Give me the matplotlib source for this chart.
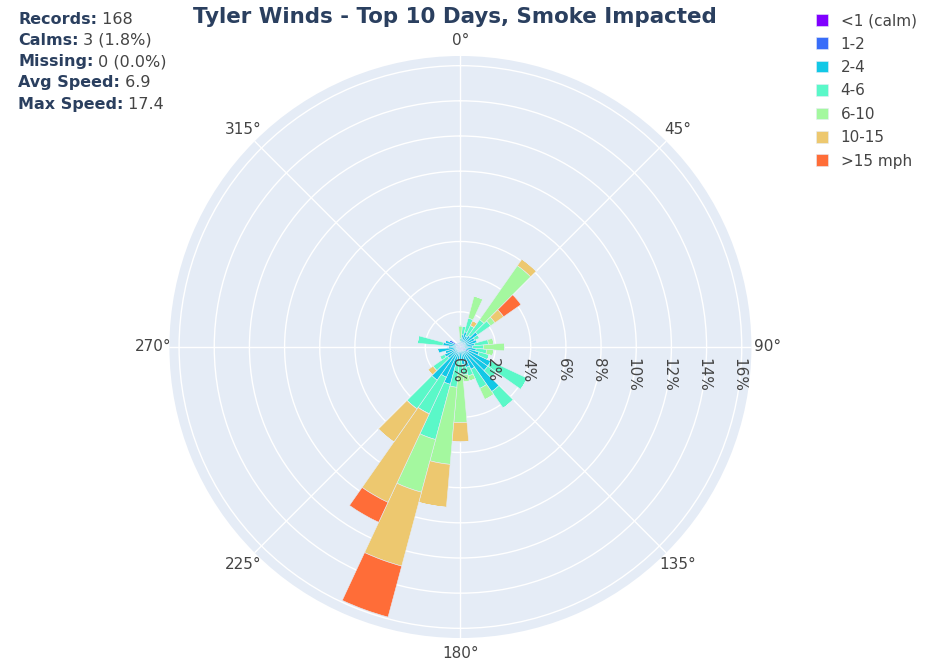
import matplotlib
matplotlib.use("Agg")
import matplotlib.pyplot as plt
import numpy as np
from matplotlib.transforms import offset_copy

# --- Daten: Anteil (%) je Richtung (10°-Sektoren) und Geschwindigkeitsklasse ---
DIRECTIONS = np.arange(0, 360, 10)
SPEED_LABELS = ["<1 (calm)", "1-2", "2-4", "4-6", "6-10", "10-15", ">15 mph"]

calm = [0, 0, 0, 0, 0, 0, 0, 0, 0, 0, 0, 0,
        0.2, 0, 0, 0, 0, 0, 0, 0, 0, 0, 0, 0,
        0, 0, 0, 0, 0, 0, 0.3, 0, 0, 0, 0, 0]
mph_1_2 = [0.1, 0.2, 0.2, 0.2, 0.2, 0.3, 0.2, 0.2, 0.2, 0.1, 0.2, 0.3,
           0.3, 0.3, 0.3, 0.2, 0.2, 0.2, 0.2, 0.2, 0.3, 0.3, 0.2, 0.2,
           0.2, 0.2, 0.3, 0.2, 0.2, 0.3, 0.4, 0.3, 0.2, 0, 0.1, 0.1]
mph_2_4 = [0.2, 0.5, 0.7, 0.5, 0.6, 0.9, 0.7, 0.8, 0.6, 0.6, 0.7, 0.8,
           1.4, 1.6, 2.8, 1.2, 1.0, 0.8, 0.5, 0.6, 1.9, 1.6, 2.1, 0.7,
           0.8, 0.7, 1.0, 0.5, 0.8, 0.6, 0, 0, 0, 0.3, 0.2, 0.2]
mph_4_6 = [0.2, 0.5, 0.8, 0.65, 1.1, 0.9, 0.3, 0, 0.8, 0.6, 0.6, 0.6,
           2.3, 0.6, 1.15, 1.2, 0.5, 0.6, 0.8, 1.5, 3.25, 2.3, 2.0, 1.0,
           0.3, 0, 0, 0, 1.45, 0, 0, 0, 0, 0, 0, 0]
mph_6_10 = [0.7, 0, 1.3, 0, 3.75, 0.3, 0, 0, 0.3, 1.2, 0.4, 0,
            0, 0, 0, 0.7, 0.3, 0.4, 2.8, 4.4, 3.1, 0, 0, 0,
            0, 0, 0, 0, 0, 0, 0, 0, 0, 0, 0, 0]
mph_10_15 = [0, 0, 0, 0.3, 0.45, 0.6, 0, 0, 0, 0, 0, 0,
             0, 0, 0, 0, 0, 0, 1.1, 2.45, 4.35, 5.55, 2.3, 0.35,
             0, 0, 0, 0, 0, 0, 0, 0, 0, 0, 0, 0]
mph_15_up = [0, 0, 0, 0, 0, 1.2, 0, 0, 0, 0, 0, 0,
             0, 0, 0, 0, 0, 0, 0, 0, 3.0, 1.25, 0, 0,
             0, 0, 0, 0, 0, 0, 0, 0, 0, 0, 0, 0]

R_TICKS = [0, 2, 4, 6, 8, 10, 12, 14, 16]
STATS = [("Records:", "168"), ("Calms:", "3 (1.8%)"), ("Missing:", "0 (0.0%)"),
         ("Avg Speed:", "6.9"), ("Max Speed:", "17.4")]
TITLE = "Tyler Winds - Top 10 Days, Smoke Impacted"

# --- Stil (Plotly-Look) ---
POLAR_BG = "#E5ECF6"
TITLE_INK = "#2a3f5f"
INK = "#444444"
COLORS = [plt.cm.rainbow(k / 7) for k in range(7)]

fig = plt.figure(figsize=(9.36, 6.65), dpi=100)
ax = fig.add_axes([0.181, 0.0406, 0.6218, 0.8752], projection="polar")
ax.set_facecolor(POLAR_BG)
ax.set_theta_zero_location("N")
ax.set_theta_direction(-1)

theta = np.radians(DIRECTIONS)
width = np.radians(10)
bottom = np.zeros(len(DIRECTIONS))
handles = []
for vals, color, label in zip([calm, mph_1_2, mph_2_4, mph_4_6, mph_6_10, mph_10_15, mph_15_up],
                              COLORS, SPEED_LABELS):
    vals = np.asarray(vals, float)
    bars = ax.bar(theta, vals, width=width, bottom=bottom, color=color,
                  edgecolor=POLAR_BG, linewidth=0.4, label=label, zorder=3)
    handles.append(bars)
    bottom += vals

ax.set_ylim(0, 16.55)
ax.set_yticks(R_TICKS)
ax.set_yticklabels([])
ax.set_thetagrids(range(0, 360, 45), labels=[f"{a}°" for a in range(0, 360, 45)])
ax.tick_params(axis="x", colors=INK, labelsize=11, pad=1)
ax.grid(True, color="white", linewidth=1.0, zorder=1)
ax.spines["polar"].set_visible(False)

# Radiale Beschriftung entlang der 90°-Achse, gedreht wie bei Plotly
label_tf = offset_copy(ax.transData, fig=fig, x=-3, y=-11, units="dots")
for r in R_TICKS:
    ax.text(np.radians(90), r, f"{r}%", rotation=-90, ha="center", va="top",
            fontsize=11, color=INK, transform=label_tf, zorder=4)

fig.text(455 / 936, 1 - 17 / 665, TITLE, ha="center", va="center",
         fontsize=15.4, fontweight="bold", color=TITLE_INK)

for i, (key, value) in enumerate(STATS):
    y = 1 - (19 + i * 21.3) / 665
    t = fig.text(18 / 936, y, key, ha="left", va="center", fontsize=11.5,
                 fontweight="bold", color=TITLE_INK)
    ax.annotate(" " + value, xy=(1, 0), xycoords=t, ha="left", va="bottom",
                fontsize=11.5, color=INK, annotation_clip=False)

leg = fig.legend(handles, SPEED_LABELS, loc="upper left",
                 bbox_to_anchor=(810 / 936, 1 - 7 / 665), frameon=False,
                 fontsize=11, handlelength=0.8, handleheight=0.8,
                 handletextpad=0.8, labelspacing=0.55, borderaxespad=0)
for txt in leg.get_texts():
    txt.set_color(INK)

fig.savefig("out.png", dpi=100, facecolor="white")
